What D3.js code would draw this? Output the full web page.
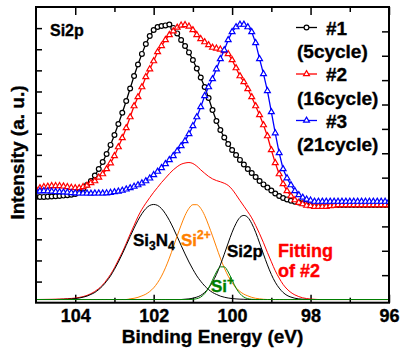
<!DOCTYPE html>
<html><head><meta charset="utf-8">
<script src="https://cdn.jsdelivr.net/npm/d3@7"></script>
<style>body{margin:0;background:#fff}svg{display:block}text{font-family:"Liberation Sans",Arial,sans-serif;font-weight:bold}</style>
</head><body><div id="chart"></div>
<script>
// ---------- DATA ----------
const bindingEnergy = d3.range(91).map(i => +(105 - i * 0.1).toFixed(1)); // 105.0 .. 96.0 eV, 0.1 eV step
const sample1 = [5.00,5.01,5.01,5.02,5.03,5.04,5.05,5.07,5.09,5.11,5.15,5.24,5.38,5.57,5.76,6.02,6.33,6.66,7.04,7.47,
  7.94,8.46,8.99,9.55,10.14,10.73,11.28,11.78,12.25,12.63,12.91,13.05,13.10,13.13,13.17,13.01,12.75,12.44,12.15,11.85,
  11.49,11.09,10.66,10.21,9.69,9.12,8.60,8.18,7.82,7.51,7.23,6.99,6.76,6.54,6.33,6.14,5.95,5.76,5.60,5.45,
  5.31,5.17,5.05,4.96,4.89,4.83,4.78,4.74,4.71,4.69,4.67,4.65,4.64,4.64,4.63,4.63,4.63,4.63,4.63,4.63,
  4.63,4.63,4.63,4.63,4.63,4.63,4.63,4.63,4.63,4.63,4.63];
const sample2 = [5.38,5.43,5.48,5.50,5.53,5.53,5.53,5.51,5.48,5.45,5.43,5.43,5.48,5.55,5.67,5.76,5.93,6.09,6.33,6.61,
  6.95,7.37,7.80,8.27,8.79,9.31,9.74,10.21,10.69,11.06,11.44,11.87,12.16,12.44,12.68,12.86,13.03,13.13,13.15,13.08,
  12.91,12.68,12.49,12.34,12.20,12.08,12.04,11.99,11.92,11.78,11.49,11.11,10.73,10.45,10.12,9.74,9.31,8.89,8.41,7.89,
  7.23,6.62,6.09,5.62,5.29,5.05,4.86,4.74,4.67,4.60,4.58,4.55,4.55,4.55,4.55,4.58,4.60,4.63,4.63,4.63,
  4.63,4.63,4.63,4.63,4.63,4.63,4.63,4.63,4.63,4.63,4.63];
const sample3 = [5.27,5.28,5.29,5.28,5.27,5.25,5.24,5.23,5.22,5.20,5.19,5.18,5.18,5.18,5.17,5.18,5.18,5.18,5.19,5.21,
  5.24,5.27,5.31,5.37,5.43,5.50,5.57,5.66,5.76,5.89,6.05,6.21,6.38,6.57,6.76,6.95,7.18,7.42,7.66,7.99,
  8.37,8.79,9.27,9.79,10.21,10.59,11.06,11.54,11.96,12.44,12.82,13.05,13.17,13.17,13.05,12.82,12.30,11.54,10.83,10.03,
  9.03,8.03,7.09,6.33,5.90,5.57,5.29,5.10,4.98,4.89,4.84,4.79,4.79,4.79,4.79,4.79,4.79,4.79,4.79,4.79,
  4.79,4.79,4.79,4.79,4.79,4.79,4.79,4.79,4.79,4.79,4.79];

const fitEnergy = [105.0].concat(d3.range(69).map(i => +(104.6 - i * 0.1).toFixed(1)), [96.0]);
const fitEnvelope = [0,0.01,0.015,0.02,0.025,0.035,0.045,0.06,0.085,0.12,0.17,0.24,0.33,0.45,0.60,0.80,1.03,1.30,1.62,1.94,
  2.30,2.68,3.04,3.40,3.70,3.95,4.18,4.40,4.60,4.80,4.98,5.16,5.32,5.45,5.55,5.60,5.62,5.58,5.47,5.32,
  5.18,5.05,4.95,4.88,4.83,4.77,4.68,4.52,4.30,4.06,3.83,3.60,3.35,3.04,2.70,2.33,1.93,1.55,1.18,0.88,
  0.62,0.43,0.29,0.19,0.12,0.07,0.04,0.02,0.01,0,0];
const fitSi3N4 = [0,0,0,0.005,0.009,0.015,0.025,0.04,0.062,0.095,0.14,0.21,0.29,0.41,0.56,0.75,0.97,1.24,1.54,1.87,
  2.22,2.58,2.93,3.25,3.52,3.73,3.86,3.9,3.86,3.73,3.52,3.25,2.93,2.58,2.22,1.87,1.54,1.24,0.97,0.75,
  0.56,0.41,0.29,0.21,0.14,0.095,0.062,0.04,0.025,0.015,0.009,0.005,0,0,0,0,0,0,0,0,
  0,0,0,0,0,0,0,0,0,0,0];
const fitSi2plus = [0,0,0,0,0,0,0,0,0,0,0,0,0,0,0,0,0,0,0,0,
  0,0.03,0.05,0.09,0.15,0.22,0.33,0.48,0.69,0.96,1.30,1.70,2.15,2.61,3.05,3.45,3.74,3.89,3.89,3.74,
  3.45,3.05,2.61,2.15,1.70,1.30,0.96,0.69,0.48,0.33,0.22,0.15,0.09,0.05,0.03,0.01,0,0,0,0,
  0,0,0,0,0,0,0,0,0,0,0];
const fitSiplus = [0,0,0,0,0,0,0,0,0,0,0,0,0,0,0,0,0,0,0,0,
  0,0,0,0,0,0,0,0,0,0,0,0,0,0,0,0,0,0.01,0.035,0.10,
  0.24,0.47,0.80,1.13,1.34,1.34,1.13,0.80,0.47,0.24,0.10,0.035,0.01,0,0,0,0,0,0,0,
  0,0,0,0,0,0,0,0,0,0,0];
const fitSi2p = [0,0,0,0,0,0,0,0,0,0,0,0,0,0,0,0,0,0,0,0,
  0,0,0,0,0,0,0,0,0,0,0,0,0,0,0,0.013,0.027,0.053,0.10,0.17,
  0.29,0.47,0.71,1.03,1.42,1.86,2.32,2.76,3.12,3.37,3.45,3.37,3.12,2.76,2.32,1.86,1.42,1.03,0.71,0.47,
  0.29,0.17,0.10,0.053,0.027,0.013,0.005,0,0,0,0];

const majorTicks = [104, 102, 100, 98, 96];
const minorTicks = [103, 101, 99, 97];
const legendNames = ["#1", "#2", "#3"];
const legendNotes = ["(5cycle)", "(16cycle)", "(21cycle)"];

// ---------- CHART ----------
const W = 400, H = 354;
const L = 36, R = 389, T = 7, B = 302.7;
const svg = d3.select("#chart").append("svg").attr("width", W).attr("height", H);

const x = d3.scaleLinear().domain([105, 96]).range([L, R]);
const yL = d3.scaleLinear().domain([0, 14]).range([B, T]);
const yR = d3.scaleLinear().domain([-0.13, 12]).range([B, T]);

svg.append("clipPath").attr("id", "clip").append("rect")
  .attr("x", L).attr("y", T).attr("width", R - L).attr("height", B - T);

function noDomain(g) { g.select(".domain").remove(); }
function heavy(sel, col) { sel.attr("stroke", col).attr("stroke-width", 0.35).attr("paint-order", "stroke"); return sel; }

svg.append("g").attr("transform", `translate(0,${B})`)
  .call(d3.axisBottom(x).tickValues(majorTicks).tickSizeInner(-8).tickSizeOuter(0).tickPadding(7).tickFormat(d3.format("d")))
  .call(noDomain)
  .call(g => heavy(g.selectAll("text").attr("font-size", 18).attr("font-family", "Liberation Sans, Arial").attr("font-weight", "bold").attr("fill", "#000"), "#000"))
  .call(g => g.selectAll("line").attr("stroke-width", 1.5));
svg.append("g").attr("transform", `translate(0,${B})`)
  .call(d3.axisBottom(x).tickValues(minorTicks).tickSizeInner(-5).tickSizeOuter(0).tickFormat(""))
  .call(noDomain).call(g => g.selectAll("line").attr("stroke-width", 1.5));
svg.append("g").attr("transform", `translate(0,${T})`)
  .call(d3.axisTop(x).tickValues(majorTicks).tickSizeInner(-8).tickSizeOuter(0).tickFormat(""))
  .call(noDomain).call(g => g.selectAll("line").attr("stroke-width", 1.5));
svg.append("g").attr("transform", `translate(0,${T})`)
  .call(d3.axisTop(x).tickValues(minorTicks).tickSizeInner(-5).tickSizeOuter(0).tickFormat(""))
  .call(noDomain).call(g => g.selectAll("line").attr("stroke-width", 1.5));
svg.append("g").attr("transform", `translate(${L},0)`)
  .call(d3.axisLeft(yL).tickValues(d3.range(1, 14)).tickSizeInner(-6).tickSizeOuter(0).tickFormat(""))
  .call(noDomain).call(g => g.selectAll("line").attr("stroke-width", 1.5));
svg.append("g").attr("transform", `translate(${R},0)`)
  .call(d3.axisRight(yR).tickValues(d3.range(1, 12)).tickSizeInner(-7).tickSizeOuter(0).tickFormat(""))
  .call(noDomain).call(g => g.selectAll("line").attr("stroke-width", 1.5));

// fitting curves (right axis)
const plot = svg.append("g").attr("clip-path", "url(#clip)");
const fitLine = d3.line().x((d, i) => x(fitEnergy[i])).y(d => yR(d)).curve(d3.curveMonotoneX);
const fits = [
  { v: fitEnvelope, c: "#ff0000" },
  { v: fitSi3N4, c: "#000000" },
  { v: fitSi2plus, c: "#ff8000" },
  { v: fitSi2p, c: "#000000" },
  { v: fitSiplus, c: "#008000" }
];
fits.forEach(f => plot.append("path").attr("d", fitLine(f.v)).attr("fill", "none")
  .attr("stroke", f.c).attr("stroke-width", 1));

// data series (left axis)
const series = [
  { v: sample1, c: "#000000", m: "circle" },
  { v: sample2, c: "#ff0000", m: "tri" },
  { v: sample3, c: "#0000ff", m: "tri" }
];
const dataLine = d3.line().x((d, i) => x(bindingEnergy[i])).y(d => yL(d));
const tri = d3.symbol().type(d3.symbolTriangle).size(15);
function marker(g, s, cx, cy) {
  if (s.m === "circle") {
    g.append("circle").attr("cx", cx).attr("cy", cy).attr("r", 2.4)
      .attr("fill", "#fff").attr("stroke", s.c).attr("stroke-width", 1.2);
  } else {
    g.append("path").attr("d", tri()).attr("transform", `translate(${cx},${cy})`)
      .attr("fill", "#fff").attr("stroke", s.c).attr("stroke-width", 1.2);
  }
}
series.forEach(s => {
  const g = plot.append("g");
  g.append("path").attr("d", dataLine(s.v)).attr("fill", "none").attr("stroke", s.c).attr("stroke-width", 1.3);
  s.v.forEach((d, i) => marker(g, s, x(bindingEnergy[i]), yL(d)));
});

// frame
svg.append("rect").attr("x", L).attr("y", T).attr("width", R - L).attr("height", B - T)
  .attr("fill", "none").attr("stroke", "#000").attr("stroke-width", 2);

// legend
const legRows = [27.5, 74, 120.5];
series.forEach((s, i) => {
  const ly = legRows[i];
  svg.append("line").attr("x1", 296).attr("x2", 317).attr("y1", ly).attr("y2", ly)
    .attr("stroke", s.c).attr("stroke-width", 1.3);
  marker(svg, s, 306.5, ly);
  heavy(svg.append("text").attr("x", 326).attr("y", ly + 7).attr("font-size", 19).text(legendNames[i]), "#000");
  heavy(svg.append("text").attr("x", 297).attr("y", ly + 30.5).attr("font-size", 19).text(legendNotes[i]), "#000");
});

// annotations
heavy(svg.append("text").attr("x", 50).attr("y", 36).attr("font-size", 16).text("Si2p"), "#000");

const t1 = heavy(svg.append("text").attr("x", 133).attr("y", 246).attr("font-size", 17).attr("fill", "#000"), "#000");
t1.append("tspan").text("Si");
t1.append("tspan").attr("font-size", 12).attr("dy", 4).text("3");
t1.append("tspan").attr("dy", -4).text("N");
t1.append("tspan").attr("font-size", 12).attr("dy", 4).text("4");

const t2 = heavy(svg.append("text").attr("x", 181).attr("y", 246).attr("font-size", 17).attr("fill", "#ff8000"), "#ff8000");
t2.append("tspan").text("Si");
t2.append("tspan").attr("font-size", 12).attr("dy", -7).text("2+");

heavy(svg.append("text").attr("x", 227).attr("y", 256.5).attr("font-size", 17).attr("fill", "#000").text("Si2p"), "#000");

const t3 = heavy(svg.append("text").attr("x", 211).attr("y", 292).attr("font-size", 17).attr("fill", "#008000"), "#008000");
t3.append("tspan").text("Si");
t3.append("tspan").attr("font-size", 12).attr("dy", -7).text("+");

heavy(svg.append("text").attr("x", 278).attr("y", 256.5).attr("font-size", 18).attr("fill", "#ff0000").text("Fitting"), "#ff0000");
heavy(svg.append("text").attr("x", 278).attr("y", 277).attr("font-size", 18).attr("fill", "#ff0000").text("of #2"), "#ff0000");

// axis titles
heavy(svg.append("text").attr("x", 212.5).attr("y", 343).attr("text-anchor", "middle").attr("font-size", 19)
  .text("Binding Energy (eV)"), "#000");
heavy(svg.append("text").attr("transform", "translate(23.5,152.5) rotate(-90)").attr("text-anchor", "middle")
  .attr("font-size", 19).text("Intensity (a. u.)"), "#000");
</script></body></html>
